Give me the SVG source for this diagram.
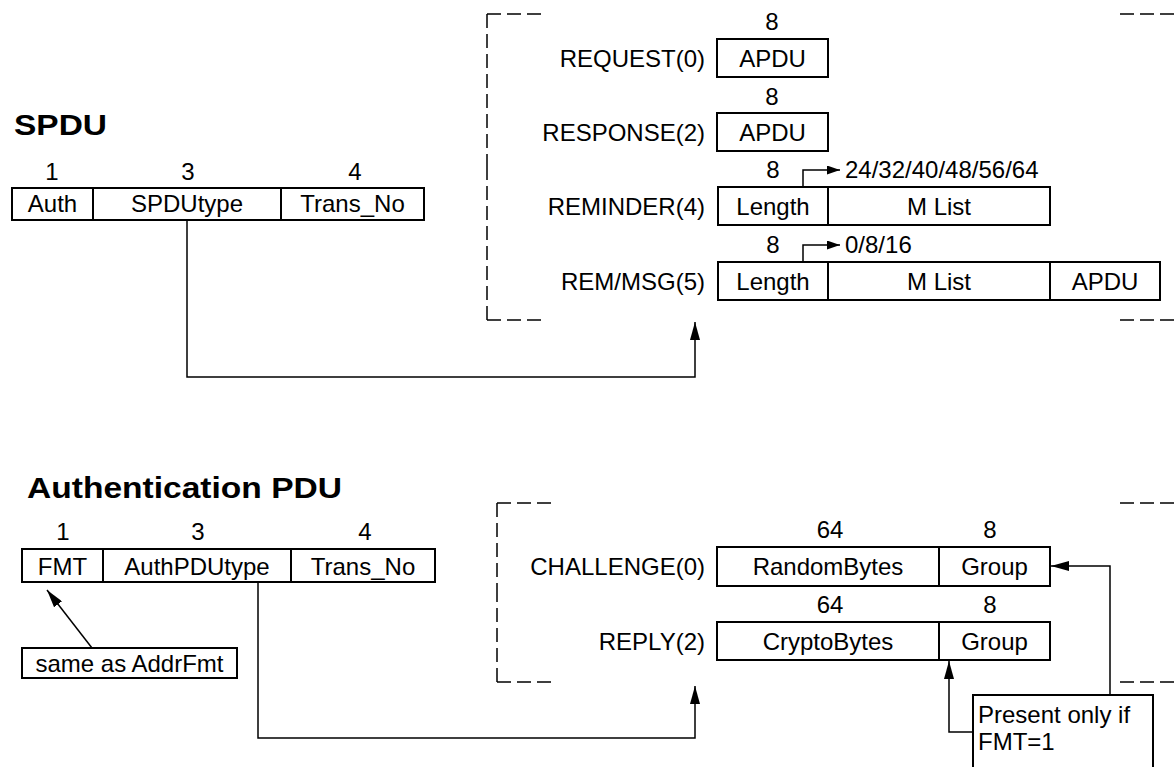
<svg xmlns="http://www.w3.org/2000/svg" width="1174" height="767" viewBox="0 0 1174 767">
<style>
text{font-family:"Liberation Sans",Arial,sans-serif;fill:#000}
.t{font-size:24px}
.c{text-anchor:middle}
.r{text-anchor:end}
.h{font-size:30px;font-weight:bold}
.box{fill:#fff;stroke:#000;stroke-width:2}
.div{stroke:#000;stroke-width:2}
.con{fill:none;stroke:#000;stroke-width:1.5}
.dash{fill:none;stroke:#000;stroke-width:1.5;stroke-dasharray:14 6}
</style>
<defs>
<marker id="ah" markerWidth="18" markerHeight="10" refX="18" refY="5" orient="auto" markerUnits="userSpaceOnUse"><path d="M0,0 L18,5 L0,10 z" fill="#000"/></marker>
<marker id="as" markerWidth="13" markerHeight="9" refX="13" refY="4.5" orient="auto" markerUnits="userSpaceOnUse"><path d="M0,0 L13,4.5 L0,9 z" fill="#000"/></marker>
</defs>

<g id="spdu-title"><text class="h" x="14" y="135" textLength="93" lengthAdjust="spacingAndGlyphs">SPDU</text></g>

<g id="spdu">
<text class="t c" x="52" y="180">1</text>
<text class="t c" x="188" y="180">3</text>
<text class="t c" x="355" y="180">4</text>
<rect class="box" x="12" y="188" width="412" height="32"/>
<line class="div" x1="93" y1="188" x2="93" y2="220"/>
<line class="div" x1="281" y1="188" x2="281" y2="220"/>
<text class="t c" x="52.5" y="212">Auth</text>
<text class="t c" x="187" y="212">SPDUtype</text>
<text class="t c" x="352.5" y="212">Trans_No</text>
</g>

<g id="spdu-bracket">
<path class="dash" d="M487,14 H545"/>
<path class="dash" d="M487,14 V167"/>
<path class="dash" d="M487,320 V167"/>
<path class="dash" d="M487,320 H545"/>
<path class="dash" d="M1174,14 H1118"/>
<path class="dash" d="M1174,320 H1118"/>
</g>

<g id="request">
<text class="t r" x="705" y="67">REQUEST(0)</text>
<text class="t c" x="772" y="30">8</text>
<rect class="box" x="717" y="39" width="111" height="38"/>
<text class="t c" x="772.5" y="67">APDU</text>
</g>

<g id="response">
<text class="t r" x="705" y="141">RESPONSE(2)</text>
<text class="t c" x="772" y="105">8</text>
<rect class="box" x="717" y="113" width="111" height="38"/>
<text class="t c" x="772.5" y="141">APDU</text>
</g>

<g id="reminder">
<text class="t r" x="705" y="215">REMINDER(4)</text>
<text class="t c" x="773" y="178">8</text>
<text class="t" x="845" y="178">24/32/40/48/56/64</text>
<rect class="box" x="718" y="187" width="332" height="38"/>
<line class="div" x1="828" y1="187" x2="828" y2="225"/>
<text class="t c" x="773" y="215">Length</text>
<text class="t c" x="939" y="215">M List</text>
</g>

<g id="remmsg">
<text class="t r" x="705" y="290">REM/MSG(5)</text>
<text class="t c" x="773" y="253">8</text>
<text class="t" x="845" y="253">0/8/16</text>
<rect class="box" x="718" y="262" width="442" height="38"/>
<line class="div" x1="828" y1="262" x2="828" y2="300"/>
<line class="div" x1="1050" y1="262" x2="1050" y2="300"/>
<text class="t c" x="773" y="290">Length</text>
<text class="t c" x="939" y="290">M List</text>
<text class="t c" x="1105" y="290">APDU</text>
</g>

<g id="auth-title"><text class="h" x="27" y="498" textLength="315" lengthAdjust="spacingAndGlyphs">Authentication PDU</text></g>

<g id="authpdu">
<text class="t c" x="63" y="540">1</text>
<text class="t c" x="198" y="540">3</text>
<text class="t c" x="365" y="540">4</text>
<rect class="box" x="22" y="549" width="413" height="33"/>
<line class="div" x1="103" y1="549" x2="103" y2="582"/>
<line class="div" x1="291" y1="549" x2="291" y2="582"/>
<text class="t c" x="62.5" y="575">FMT</text>
<text class="t c" x="197" y="575">AuthPDUtype</text>
<text class="t c" x="363" y="575">Trans_No</text>
</g>

<g id="note-addrfmt">
<rect class="box" x="22" y="648" width="215" height="30"/>
<text class="t c" x="129.5" y="672">same as AddrFmt</text>
</g>

<g id="auth-bracket">
<path class="dash" d="M497,503 H555"/>
<path class="dash" d="M497,503 V593"/>
<path class="dash" d="M497,682 V593"/>
<path class="dash" d="M497,682 H555"/>
<path class="dash" d="M1174,503 H1120"/>
<path class="dash" d="M1174,682 H1120"/>
</g>

<g id="challenge">
<text class="t r" x="705" y="575">CHALLENGE(0)</text>
<text class="t c" x="830" y="538">64</text>
<text class="t c" x="990" y="538">8</text>
<rect class="box" x="717" y="547" width="333" height="39"/>
<line class="div" x1="939" y1="547" x2="939" y2="586"/>
<text class="t c" x="828" y="575">RandomBytes</text>
<text class="t c" x="994.5" y="575">Group</text>
</g>

<g id="reply">
<text class="t r" x="705" y="650">REPLY(2)</text>
<text class="t c" x="830" y="613">64</text>
<text class="t c" x="990" y="613">8</text>
<rect class="box" x="717" y="622" width="333" height="38"/>
<line class="div" x1="939" y1="622" x2="939" y2="660"/>
<text class="t c" x="828" y="650">CryptoBytes</text>
<text class="t c" x="994.5" y="650">Group</text>
</g>

<g id="note-fmt">
<rect class="box" x="973" y="695" width="180" height="80"/>
<text class="t" x="978" y="723">Present only if</text>
<text class="t" x="978" y="750">FMT=1</text>
</g>

<g id="connectors">
<path class="con" d="M187,220 V377 H695 V322" marker-end="url(#ah)"/>
<path class="con" d="M258,582 V738 H695 V686" marker-end="url(#ah)"/>
<path class="con" d="M803,187 V170 H840" marker-end="url(#as)"/>
<path class="con" d="M803,262 V245 H840" marker-end="url(#as)"/>
<path class="con" d="M92,648 L47,590" marker-end="url(#ah)"/>
<path class="con" d="M1110,695 V566 H1051" marker-end="url(#ah)"/>
<path class="con" d="M973,732 H949 V661" marker-end="url(#ah)"/>
</g>
</svg>
